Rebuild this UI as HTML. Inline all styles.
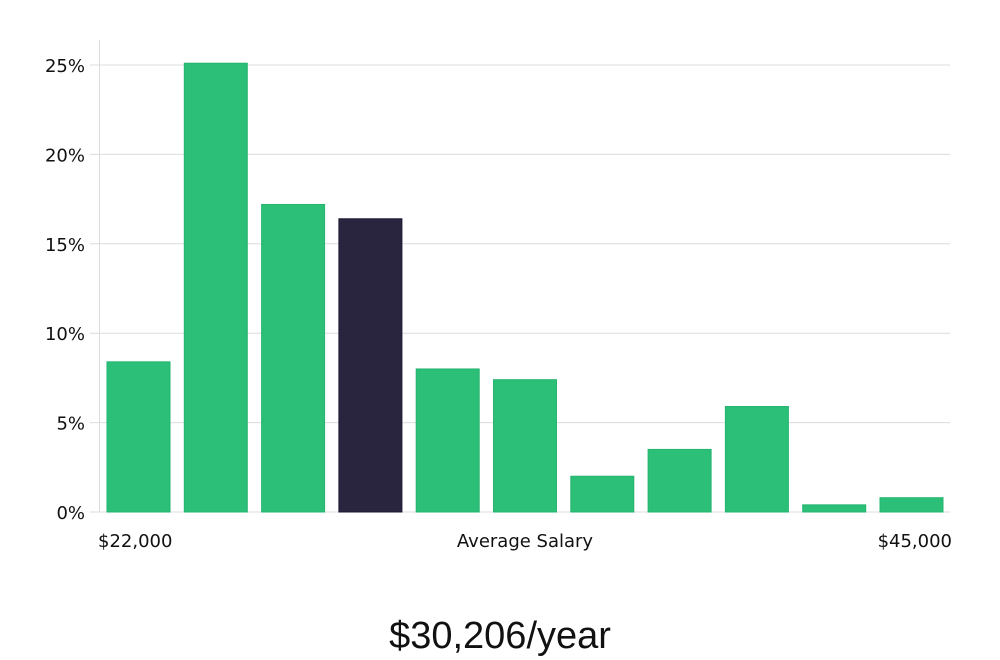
<!DOCTYPE html>
<html><head><meta charset="utf-8"><style>
html,body{margin:0;padding:0;background:#fff;}
svg{display:block;}
</style></head><body>
<svg id="chart" width="1000" height="660" xmlns="http://www.w3.org/2000/svg">
<g id="grid"></g>
<g id="bars"></g>
<g id="yaxis"></g>
<text x="98" y="547" font-family="DejaVu Sans, sans-serif" font-size="18" fill="#111">$22,000</text>
<text x="525" y="547" text-anchor="middle" font-family="DejaVu Sans, sans-serif" font-size="18" fill="#111">Average Salary</text>
<text x="952" y="547" text-anchor="end" font-family="DejaVu Sans, sans-serif" font-size="18" fill="#111">$45,000</text>
<text x="500" y="648" text-anchor="middle" font-family="Liberation Sans, DejaVu Sans, sans-serif" font-weight="300" font-size="38" fill="#111">$30,206/year</text>
</svg>
<script>
const categories = ["b1","b2","b3","b4","b5","b6","b7","b8","b9","b10","b11"];
const values = [8.4, 25.1, 17.2, 16.4, 8.0, 7.4, 2.0, 3.5, 5.9, 0.4, 0.8];
const highlightIndex = 3;
const yTicks = [0, 5, 10, 15, 20, 25];
const yTickLabels = ["0%","5%","10%","15%","20%","25%"];

const NS = "http://www.w3.org/2000/svg";
const y0 = 512, pxPer = (512 - 65) / 25;
const yScale = v => y0 - v * pxPer;
const xStart = 107, step = (880 - 107) / 10, bw = 63;
const xScale = i => xStart + i * step;

const grid = document.getElementById('grid');
const yaxis = document.getElementById('yaxis');
yTicks.forEach((t, i) => {
  const y = yScale(t);
  const l = document.createElementNS(NS, 'line');
  
  
  l.setAttribute('x1', 90); l.setAttribute('x2', 950);
  l.setAttribute('y1', y); l.setAttribute('y2', y);
  l.setAttribute('stroke', '#dcdcdc'); l.setAttribute('stroke-width', 1);
  grid.appendChild(l);
  const tx = document.createElementNS(NS, 'text');
  
  
  tx.setAttribute('x', 85); tx.setAttribute('y', y + 7);
  tx.setAttribute('text-anchor', 'end');
  tx.setAttribute('font-family', 'DejaVu Sans, sans-serif');
  tx.setAttribute('font-size', 18); tx.setAttribute('fill', '#111');
  tx.textContent = yTickLabels[i];
  yaxis.appendChild(tx);
});
const ax = document.createElementNS(NS, 'line');


ax.setAttribute('x1', 99.5); ax.setAttribute('x2', 99.5);
ax.setAttribute('y1', 40); ax.setAttribute('y2', 512);
ax.setAttribute('stroke', '#dcdcdc');
yaxis.appendChild(ax);

const bars = document.getElementById('bars');
values.forEach((v, i) => {
  const r = document.createElementNS(NS, 'rect');
  
  
  const y = yScale(v);
  r.setAttribute('x', xScale(i)); r.setAttribute('y', y);
  r.setAttribute('width', bw); r.setAttribute('height', y0 - y);
  const hi = i === highlightIndex;
  r.setAttribute('fill', hi ? '#29253f' : '#2bbf78');
  r.setAttribute('stroke', hi ? '#1c1833' : '#25b56f');
  r.setAttribute('stroke-width', 1);
  bars.appendChild(r);
});
</script>
</body></html>
